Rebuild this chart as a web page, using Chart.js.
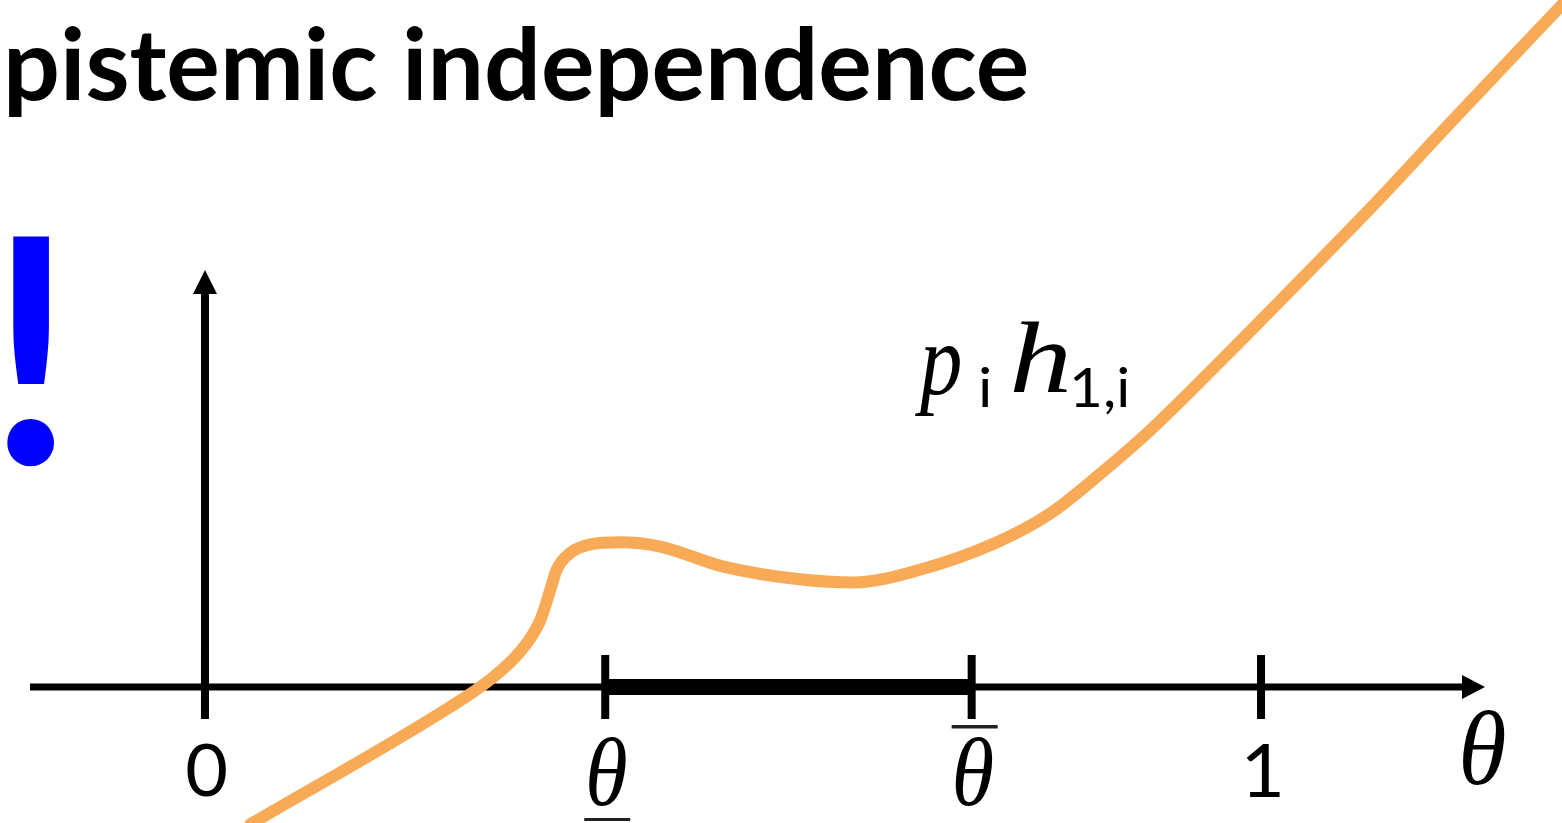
<!DOCTYPE html>
<html>
<head>
<meta charset="utf-8">
<script src="https://cdn.jsdelivr.net/npm/chart.js@4"></script>
<style>
  html, body { margin: 0; padding: 0; background: #fff; }
  canvas { display: block; }
</style>
</head>
<body>
<canvas id="curve-chart" width="1562" height="823"></canvas>
<script>
const thetaPoints = [0.043, 0.232, 0.270, 0.298, 0.317, 0.327, 0.333, 0.346, 0.365, 0.393, 0.431, 0.491, 0.563, 0.614, 0.677, 0.750, 0.800, 0.848, 0.895, 0.966, 1.037, 1.108, 1.179, 1.285];
const valuePoints = [-0.130, -0.019, 0.007, 0.033, 0.062, 0.092, 0.111, 0.127, 0.135, 0.137, 0.133, 0.114, 0.102, 0.099, 0.111, 0.137, 0.164, 0.202, 0.243, 0.313, 0.385, 0.458, 0.534, 0.646];

// ticks on the theta axis
const tickValues = [0, 0.379, 0.726, 1];
const tickLabels = ["0", "θ", "θ", "1"];
const tickMarks = ["", "under", "over", ""];

// axis extents
const xRange = [-0.1941, 1.285];
const yRange = [-0.1288, 0.6506];
const xAxisEnds = [-0.1657, 1.2121];
const yAxisEnds = [-0.0294, 0.3949];
const thickSpan = [0.379, 0.726];

const orange = "#F9AA57";

// draw a string so its ink fills a box
function fitText(ctx, str, font, x0, y0, x1, y1, color) {
  ctx.save();
  ctx.font = font;
  const m = ctx.measureText(str);
  const w = m.actualBoundingBoxLeft + m.actualBoundingBoxRight;
  const h = m.actualBoundingBoxAscent + m.actualBoundingBoxDescent;
  const sy = (y1 - y0) / h;
  const sx = x1 != null ? (x1 - x0) / w : sy;
  ctx.translate(x0, y0);
  ctx.scale(sx, sy);
  ctx.fillStyle = color;
  ctx.textAlign = "left";
  ctx.textBaseline = "alphabetic";
  ctx.fillText(str, m.actualBoundingBoxLeft, m.actualBoundingBoxAscent);
  ctx.restore();
}

const axesPlugin = {
  id: "axes",
  beforeDatasetsDraw(chart) {
    const ctx = chart.ctx;
    const xs = chart.scales.x, ys = chart.scales.y;
    const oy = ys.getPixelForValue(0);
    const ox = xs.getPixelForValue(0);
    ctx.save();
    ctx.fillStyle = "#000";

    // horizontal axis
    const xa = xs.getPixelForValue(xAxisEnds[0]);
    const xb = xs.getPixelForValue(xAxisEnds[1]);
    ctx.fillRect(xa, oy - 3.5, xb - 20 - xa, 7);
    ctx.beginPath();
    ctx.moveTo(xb, oy);
    ctx.lineTo(xb - 23, oy - 12);
    ctx.lineTo(xb - 23, oy + 12);
    ctx.closePath();
    ctx.fill();

    // thick interval
    const ta = xs.getPixelForValue(thickSpan[0]);
    const tb = xs.getPixelForValue(thickSpan[1]);
    ctx.fillRect(ta, oy - 8, tb - ta, 16);

    // vertical axis
    const ya = ys.getPixelForValue(yAxisEnds[0]);
    const yb = ys.getPixelForValue(yAxisEnds[1]);
    ctx.fillRect(ox - 4, yb + 20, 8, ya - yb - 20);
    ctx.beginPath();
    ctx.moveTo(ox, yb);
    ctx.lineTo(ox - 12, yb + 24);
    ctx.lineTo(ox + 12, yb + 24);
    ctx.closePath();
    ctx.fill();

    // ticks
    tickValues.forEach(v => {
      const px = xs.getPixelForValue(v);
      ctx.fillRect(px - 4, oy - 32, 8, 64);
    });
    ctx.restore();
  },
  afterDatasetsDraw(chart) {
    const ctx = chart.ctx;
    const xs = chart.scales.x, ys = chart.scales.y;
    const oy = ys.getPixelForValue(0);

    // tick labels
    tickValues.forEach((v, i) => {
      const cx = xs.getPixelForValue(v) + 2;
      if (tickLabels[i] === "θ") {
        fitText(ctx, "θ", "italic 80px 'Liberation Serif'", cx - 19, oy + 50, cx + 19, oy + 119, "#000");
        ctx.fillStyle = "#222";
        if (tickMarks[i] === "under") ctx.fillRect(cx - 23, oy + 131, 46, 3);
        if (tickMarks[i] === "over") ctx.fillRect(cx - 22, oy + 38, 46, 3.5);
      } else {
        const hw = tickLabels[i] === "1" ? 17 : 19.5;
        fitText(ctx, tickLabels[i], "70px Lato", cx - hw, oy + 57, cx + hw, oy + 110, "#000");
      }
    });

    // axis name
    fitText(ctx, "θ", "italic 80px 'Liberation Serif'", 1462, 710, 1505, 785, "#000");

    // curve label p_i h_1,i
    fitText(ctx, "p", "italic 100px 'Liberation Serif'", 915, 345, 960, 415, "#000");
    fitText(ctx, "i", "60px Lato", 981, 367, 990, 407, "#000");
    fitText(ctx, "h", "italic 100px 'Liberation Serif'", 1013, 322, 1067, 393, "#000");
    fitText(ctx, "1,i", "60px Lato", 1073, 367, 1128, 415, "#000");

    // heading and mark
    fitText(ctx, "pistemic independence", "bold 100px Lato", 9, 27, 1027, 117, "#000");
    fitText(ctx, "!", "bold 300px Lato", 7, 233, 55, 469, "#0000FF");
  }
};

new Chart(document.getElementById("curve-chart"), {
  type: "line",
  data: {
    datasets: [
      {
        label: "p_i h_1,i",
        data: thetaPoints.map((t, i) => ({ x: t, y: valuePoints[i] })),
        borderColor: orange,
        borderWidth: 12,
        borderCapStyle: "round",
        borderJoinStyle: "round",
        pointRadius: 0,
        cubicInterpolationMode: "monotone",
        fill: false
      }
    ]
  },
  options: {
    responsive: false,
    animation: false,
    devicePixelRatio: 1,
    layout: { padding: 0 },
    plugins: {
      legend: { display: false },
      tooltip: { enabled: false },
      title: { display: false }
    },
    scales: {
      x: { type: "linear", min: xRange[0], max: xRange[1], display: false },
      y: { type: "linear", min: yRange[0], max: yRange[1], display: false }
    }
  },
  plugins: [axesPlugin]
});
</script>
</body>
</html>
